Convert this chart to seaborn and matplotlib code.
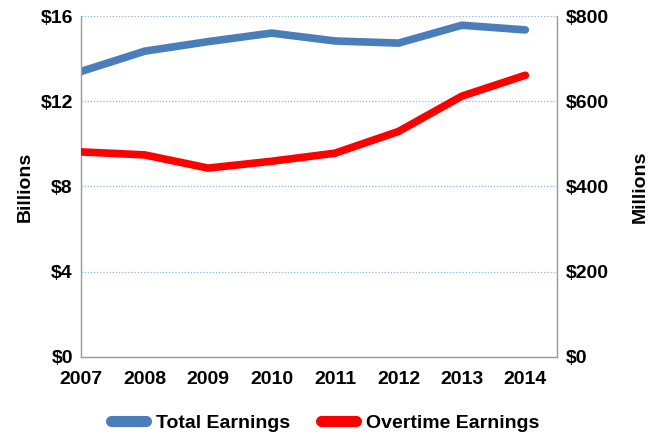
import numpy as np
import pandas as pd
import matplotlib
matplotlib.use("Agg")
import matplotlib.pyplot as plt
import seaborn as sns
from matplotlib.ticker import FuncFormatter
from matplotlib.lines import Line2D

years = [2007, 2008, 2009, 2010, 2011, 2012, 2013, 2014]
total_billions = [13.4, 14.35, 14.8, 15.2, 14.83, 14.73, 15.57, 15.35]
overtime_millions = [481, 474, 443, 459, 478, 529, 612, 661]

df = pd.DataFrame({"Year": years, "Total": total_billions, "Overtime": overtime_millions})

sns.set_theme(style="white")
plt.rcParams["font.family"] = ["Liberation Sans", "DejaVu Sans"]
plt.rcParams["font.weight"] = "bold"
plt.rcParams["text.color"] = "black"
plt.rcParams["xtick.color"] = "black"
plt.rcParams["ytick.color"] = "black"
plt.rcParams["axes.labelcolor"] = "black"

fig, ax = plt.subplots(figsize=(6.5, 4.34), dpi=100)
ax2 = ax.twinx()

blue = "#4a7ebb"
red = "#ff0000"
fs = 14

sns.lineplot(data=df, x="Year", y="Total", ax=ax, color=blue, linewidth=5.5,
             solid_capstyle="round", legend=False)
sns.lineplot(data=df, x="Year", y="Overtime", ax=ax2, color=red, linewidth=5.5,
             solid_capstyle="round", legend=False)

ax.set_ylim(0, 16)
ax2.set_ylim(0, 800)
ax.set_xlim(2007, 2014.5)
ax.set_yticks([0, 4, 8, 12, 16])
ax2.set_yticks([0, 200, 400, 600, 800])
ax.set_xticks(years)
ax.yaxis.set_major_formatter(FuncFormatter(lambda v, p: f"${v:.0f}"))
ax2.yaxis.set_major_formatter(FuncFormatter(lambda v, p: f"${v:.0f}"))

ax.yaxis.grid(True, color="#8eb4e3", linestyle=(0, (1, 1.5)), linewidth=0.9)
ax.set_axisbelow(True)

for a in (ax, ax2):
    a.spines["top"].set_visible(False)
    for s in ("left", "right", "bottom"):
        a.spines[s].set_color("#999999")
        a.spines[s].set_linewidth(1.0)
    a.tick_params(axis="both", labelsize=fs, length=0, pad=6, labelcolor="black")
ax.tick_params(axis="x", length=5, color="#999999", width=1, direction="out", pad=5)
ax.spines["right"].set_visible(False)
ax2.spines["left"].set_visible(False)
ax2.spines["bottom"].set_visible(False)

ax.set_xlabel("")
ax.set_ylabel("Billions", fontsize=fs, fontweight="bold", labelpad=5, color="black")
ax2.set_ylabel("Millions", fontsize=fs, fontweight="bold", labelpad=17, color="black")

handles = [Line2D([], [], color=blue, linewidth=8, solid_capstyle="round"),
           Line2D([], [], color=red, linewidth=8, solid_capstyle="round")]
fig.legend(handles, ["Total Earnings", "Overtime Earnings"], loc="lower center",
           ncol=2, frameon=False, fontsize=fs, bbox_to_anchor=(0.5, -0.035),
           handlelength=1.8, columnspacing=1.6, handletextpad=0.5)

fig.subplots_adjust(left=0.125, right=0.857, top=0.963, bottom=0.178)
fig.savefig("out.png", dpi=100)
